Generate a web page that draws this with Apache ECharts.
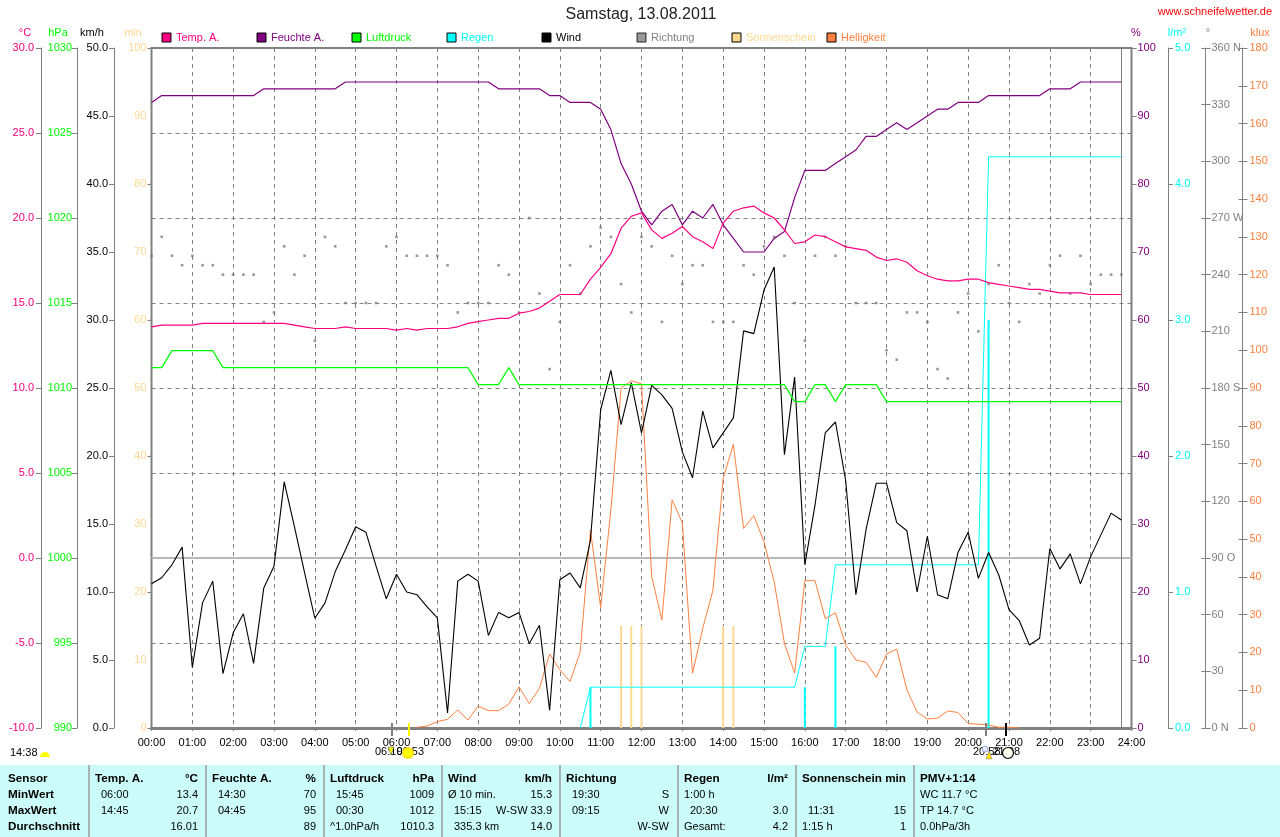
<!DOCTYPE html>
<html>
<head>
<meta charset="utf-8">
<script src="https://cdn.jsdelivr.net/npm/echarts@6/dist/echarts.min.js"></script>
<style>html,body{margin:0;padding:0;background:#fff}#c{width:1280px;height:837px}</style>
</head>
<body>
<div id="c"></div>
<script>
// 96 quarter-hour readings, 00:00 .. 23:45
const temp = [
13.6,13.7,13.7,13.7,13.7,13.8,13.8,13.8,13.8,13.8,13.8,13.8,
13.8,13.8,13.7,13.6,13.5,13.5,13.5,13.6,13.5,13.5,13.5,13.5,
13.4,13.5,13.4,13.5,13.5,13.5,13.6,13.8,13.9,14.0,14.1,14.1,
14.4,14.5,14.7,15.1,15.5,15.5,15.5,16.4,17.1,17.9,19.4,20.1,
20.3,19.3,18.8,19.1,19.5,18.9,18.6,18.2,19.7,20.4,20.6,20.7,
20.3,20.0,19.3,18.5,18.6,19.0,18.9,18.6,18.3,18.2,18.1,17.7,
17.5,17.6,17.4,16.9,16.6,16.4,16.3,16.3,16.4,16.4,16.2,16.1,
16.0,15.9,15.8,15.8,15.7,15.6,15.6,15.6,15.5,15.5,15.5,15.5];
const humidity = [
92,93,93,93,93,93,93,93,93,93,93,94,
94,94,94,94,94,94,94,95,95,95,95,95,
95,95,95,95,95,95,95,95,95,95,94,94,
94,94,94,93,93,92,92,92,91,88,83,80,
76,74,76,77,74,76,75,77,74,72,70,70,
70,72,73,78,82,82,82,83,84,85,87,87,
88,89,88,89,90,91,91,92,92,92,93,93,
93,93,93,93,94,94,94,95,95,95,95,95];
const pressure = [
1011.2,1011.2,1012.2,1012.2,1012.2,1012.2,1012.2,1011.2,1011.2,1011.2,1011.2,1011.2,
1011.2,1011.2,1011.2,1011.2,1011.2,1011.2,1011.2,1011.2,1011.2,1011.2,1011.2,1011.2,
1011.2,1011.2,1011.2,1011.2,1011.2,1011.2,1011.2,1011.2,1010.2,1010.2,1010.2,1011.2,
1010.2,1010.2,1010.2,1010.2,1010.2,1010.2,1010.2,1010.2,1010.2,1010.2,1010.2,1010.2,
1010.2,1010.2,1010.2,1010.2,1010.2,1010.2,1010.2,1010.2,1010.2,1010.2,1010.2,1010.2,
1010.2,1010.2,1010.2,1009.2,1009.2,1010.2,1010.2,1009.2,1010.2,1010.2,1010.2,1010.2,
1009.2,1009.2,1009.2,1009.2,1009.2,1009.2,1009.2,1009.2,1009.2,1009.2,1009.2,1009.2,
1009.2,1009.2,1009.2,1009.2,1009.2,1009.2,1009.2,1009.2,1009.2,1009.2,1009.2,1009.2];
const rainTotal = [
null,null,null,null,null,null,null,null,null,null,null,null,
null,null,null,null,null,null,null,null,null,null,null,null,
null,null,null,null,null,null,null,null,null,null,null,null,
null,null,null,null,null,null,0,0.3,0.3,0.3,0.3,0.3,
0.3,0.3,0.3,0.3,0.3,0.3,0.3,0.3,0.3,0.3,0.3,0.3,
0.3,0.3,0.3,0.3,0.6,0.6,0.6,1.2,1.2,1.2,1.2,1.2,
1.2,1.2,1.2,1.2,1.2,1.2,1.2,1.2,1.2,1.2,4.2,4.2,
4.2,4.2,4.2,4.2,4.2,4.2,4.2,4.2,4.2,4.2,4.2,4.2];
const wind = [
10.6,11.05,12.0,13.3,4.45,9.2,10.8,4.0,7.0,8.4,4.75,10.3,
11.9,18.1,14.8,11.4,8.07,9.2,11.5,13.1,14.8,14.4,11.9,9.5,
11.3,10.0,9.8,8.9,8.1,1.1,10.8,11.3,10.8,6.8,8.5,8.1,
8.5,6.2,7.55,1.3,10.9,11.4,10.3,13.8,23.4,26.3,22.3,25.4,
21.7,25.2,24.5,23.5,20.3,18.4,23.3,20.6,21.7,22.8,29.2,29.0,
32.2,33.9,20.1,25.8,12.0,16.4,21.7,22.5,18.2,9.8,14.6,18.0,
18.0,15.1,14.5,10.0,14.1,9.8,9.5,12.9,14.4,11.0,12.9,11.25,
8.7,7.9,6.1,6.6,13.2,11.7,12.8,10.6,12.6,14.2,15.8,15.3];
const direction = [
250,260,250,245,250,245,245,240,240,240,240,215,
220,255,240,250,205,260,255,225,225,225,225,255,
260,250,250,250,250,245,220,225,225,225,245,240,
220,270,230,190,215,245,230,255,265,260,235,220,
260,255,215,250,235,245,245,215,215,215,245,240,
255,260,250,225,205,250,260,250,255,225,225,225,
200,195,220,220,215,190,185,220,230,210,235,245,
225,215,235,230,245,250,230,250,235,240,240,240];
const brightness = [
null,null,null,null,null,null,null,null,null,null,null,null,
null,null,null,null,null,null,null,null,null,null,null,null,
null,null,0.2,0.5,1.7,2.3,4.8,2.1,5.8,4.6,4.6,6.3,
10.9,6.5,10.5,19.6,15.4,12.3,20.2,52.4,31.9,57.7,90,91.9,
91.1,40,28.6,60.4,54.3,14.5,26.4,36.5,66.1,75.1,52.8,56.2,
49.3,38.7,22.4,14.6,39,39,28.9,30.5,22,18,17.4,13.4,
19.6,20.9,10.1,4.2,2.4,2.6,4.5,4.1,1.2,1,0.8,0.2,
0.2,0,null,null,null,null,null,null,null,null,null,null];

const rainBarTimes = [10.75,16,16.75,20.5];
const rainBarValues = [0.3,0.3,0.6,3.0];
const sunTimes = [11.5,11.75,12,14,14.25];
const sunValues = [15,15,15,15,15];
const eventTimes = [5.88,6.31,20.43,20.93];
const eventColors = ['#808080','#FFFF00','#808080','#000000'];
const nowTime = 23.75;

const dirNames = {0:'N',90:'O',180:'S',270:'W',360:'N'};
const seriesNames = ['Temp. A.','Feuchte A.','Luftdruck','Regen','Wind','Richtung','Sonnenschein','Helligkeit'];
const seriesColors = ['#FF0080','#800080','#00FF00','#00FFFF','#000000','#808080','#FFD890','#FF8040'];
const unitNames = ['°C','hPa','km/h','min','%','l/m²','°','klux'];

const tableCols = [
 {x:8,  r:null, head:['Sensor',''], rows:[['MinWert',''],['MaxWert',''],['Durchschnitt','']], boldRows:true},
 {x:95, r:198, head:['Temp. A.','°C'], rows:[['06:00','13.4',1],['14:45','20.7',1],['','16.01']]},
 {x:212,r:316, head:['Feuchte A.','%'], rows:[['14:30','70',1],['04:45','95',1],['','89']]},
 {x:330,r:434, head:['Luftdruck','hPa'], rows:[['15:45','1009',1],['00:30','1012',1],['^1.0hPa/h','1010.3']]},
 {x:448,r:552, head:['Wind','km/h'], rows:[['Ø 10 min.','15.3'],['15:15','W-SW 33.9',1],['335.3 km','14.0',1]]},
 {x:566,r:669, head:['Richtung',''], rows:[['19:30','S',1],['09:15','W',1],['','W-SW']]},
 {x:684,r:788, head:['Regen','l/m²'], rows:[['1:00 h',''],['20:30','3.0',1],['Gesamt:','4.2']]},
 {x:802,r:906, head:['Sonnenschein min',''], rows:[['',''],['11:31','15',1],['1:15 h','1']]},
 {x:920,r:null,head:['PMV+1:14',''], rows:[['WC 11.7 °C',''],['TP 14.7 °C',''],['0.0hPa/3h','']]}
];
const tableSeparators = [88,205,323,441,559,677,795,913];

const FONT = '"Liberation Sans", Arial, sans-serif';
const times = temp.map((_, i) => i * 0.25);
const pairs = arr => arr.map((v, i) => [times[i], v]);

function yAxis(pos, offset, min, max, interval, color, fmt, showLine, margin) {
  return {
    type:'value', position:pos, offset:offset, min:min, max:max, interval:interval,
    axisLine:{show:showLine, onZero:false, lineStyle:{color:'#808080',width:1}},
    axisTick:{show:showLine, length:5, lineStyle:{color:'#808080',width:1}},
    splitLine:{show:false},
    axisLabel:{color:color, fontFamily:FONT, fontSize:11, margin:margin, formatter:fmt, showMinLabel:true, showMaxLabel:true}
  };
}
// extra tick-only axis: the far right scales have ticks on both sides of their line
function innerTicks(offset, min, max, interval){
  return {type:'value', position:'right', offset:offset, min:min, max:max, interval:interval,
    axisLine:{show:false}, splitLine:{show:false}, axisLabel:{show:false},
    axisTick:{show:true, inside:true, length:4, lineStyle:{color:'#808080',width:1}}};
}
const fix1 = v => v.toFixed(1);
const yAxes = [
  Object.assign(yAxis('left',110.5,-10,30,5,seriesColors[0],fix1,true,7),
    {splitLine:{show:true,lineStyle:{color:'#808080',type:[4,4],width:1}}}),
  yAxis('left',74.5,990,1030,5,seriesColors[2],v=>String(v),true,5),
  yAxis('left',37.5,0,50,5,'#000000',fix1,true,6),
  yAxis('left',0,0,100,10,seriesColors[6],v=>String(v),false,5),
  yAxis('right',0,0,100,10,seriesColors[1],v=>String(v),true,6),
  yAxis('right',36.5,0,5,1,seriesColors[3],fix1,true,7),
  yAxis('right',74,0,360,30,seriesColors[5],v=>dirNames[v]!==undefined?v+' '+dirNames[v]:String(v),true,6),
  yAxis('right',111,0,180,10,seriesColors[7],v=>String(v),true,7),
  innerTicks(36.5,0,5,1), innerTicks(74,0,360,30), innerTicks(111,0,180,10)
];

function lineSeries(name, arr, yi, color, width, z) {
  return {name, type:'line', yAxisIndex:yi, data:pairs(arr), showSymbol:false, symbol:'none',
    connectNulls:false, silent:true, z:z, lineStyle:{color,width}, itemStyle:{color}, clip:false};
}
const tempSeries = lineSeries(seriesNames[0],temp,0,seriesColors[0],1.2,6);
tempSeries.markLine = {silent:true, symbol:'none', label:{show:false}, animation:false, z:1,
  data:[
    {yAxis:0, lineStyle:{color:'#B8B8B8',width:2,type:'solid'}},
    {xAxis:nowTime, lineStyle:{color:'#808080',width:1,type:'solid'}}
  ]};

const series = [
  {name:seriesNames[6], type:'bar', yAxisIndex:3, barWidth:2, barGap:'-100%', z:3, silent:true,
    data:sunTimes.map((t,i)=>[t,sunValues[i]]), itemStyle:{color:seriesColors[6]}},
  {name:'Regen Menge', type:'bar', yAxisIndex:5, barWidth:2, barGap:'-100%', z:3, silent:true,
    data:rainBarTimes.map((t,i)=>[t,rainBarValues[i]]), itemStyle:{color:seriesColors[3]}},
  {name:seriesNames[5], type:'scatter', yAxisIndex:6, symbol:'rect', symbolSize:2.6, z:3, silent:true,
    data:pairs(direction), itemStyle:{color:seriesColors[5]}},
  lineSeries(seriesNames[3],rainTotal,5,seriesColors[3],1,4),
  lineSeries(seriesNames[7],brightness,7,seriesColors[7],1,4),
  lineSeries(seriesNames[4],wind,2,seriesColors[4],1.1,5),
  lineSeries(seriesNames[1],humidity,4,seriesColors[1],1.2,5),
  tempSeries,
  lineSeries(seriesNames[2],pressure,1,seriesColors[2],1.2,6),
  {name:'Ereignisse', type:'custom', yAxisIndex:3, z:7, silent:true, clip:false,
    data:eventTimes.map((t,i)=>[t,0,i]),
    renderItem:function(params,api){
      const p = api.coord([api.value(0),0]);
      const c = eventColors[api.value(2)];
      return {type:'rect', shape:{x:Math.round(p[0])-1, y:p[1]-5, width:2, height:13},
        style:{fill:c}, silent:true};
    }}
];

const legends = seriesNames.map((n,i)=>({
  left:161.5+i*95, top:32, padding:0, itemWidth:9, itemHeight:9, itemGap:0, icon:'rect',
  selectedMode:false, data:[n],
  itemStyle:{borderColor:'#000',borderWidth:1},
  textStyle:{color:seriesColors[i],fontFamily:FONT,fontSize:11,padding:[0,0,0,0]}
}));

function text(x,y,t,fill,opt){
  opt = opt||{};
  return {type:'text', x:x, y:y, z:50, silent:true, style:{text:t, fill:fill,
    font:(opt.bold?'bold ':'')+(opt.size||11)+'px '+FONT,
    textAlign:opt.align||'left', textVerticalAlign:'middle'}};
}
const gfx = [];
gfx.push({type:'rect', z:40, silent:true, shape:{x:0,y:765,width:1280,height:72}, style:{fill:'#CCFCF9'}});
tableSeparators.forEach(x=>gfx.push({type:'rect', z:41, silent:true, shape:{x:x,y:765,width:2,height:72}, style:{fill:'#A8B4B4'}}));
const rowY = [795,811,827];
tableCols.forEach(col=>{
  gfx.push(text(col.x,779,col.head[0],'#000',{bold:true,size:11.7}));
  if(col.head[1]) gfx.push(text(col.r,779,col.head[1],'#000',{bold:true,size:11.7,align:'right'}));
  col.rows.forEach((r,i)=>{
    if(r[0]) gfx.push(text(col.x+(r[2]?6:0),rowY[i],r[0],'#000',{bold:!!col.boldRows,size:col.boldRows?11.7:11}));
    if(r[1]) gfx.push(text(col.r,rowY[i],r[1],'#000',{align:'right'}));
  });
});
// heading, site, unit names
gfx.push(text(641,15,'Samstag, 13.08.2011','#222',{size:16,align:'center'}));
gfx.push(text(1272,12,'www.schneifelwetter.de','#FF0000',{size:11,align:'right'}));
const unitX = [25,58,92,133,1136,1177,1208,1260];
const unitColors = [seriesColors[0],seriesColors[2],'#000',seriesColors[6],seriesColors[1],seriesColors[3],seriesColors[5],seriesColors[7]];
unitNames.forEach((u,i)=>gfx.push(text(unitX[i],33,u,unitColors[i],{align:'center'})));
// sun and moon times
gfx.push(text(10,753,'14:38','#000'));
gfx.push({type:'sector',z:45,silent:true,shape:{cx:45,cy:757,r:5,r0:0,startAngle:Math.PI,endAngle:2*Math.PI},style:{fill:'#FFFF00'}});
gfx.push(text(375,752,'06:19','#000'));
gfx.push(text(424,752,'06:53','#000',{align:'right'}));
gfx.push({type:'circle',z:60,silent:true,shape:{cx:408,cy:753,r:5},style:{fill:'#FFFF00',stroke:'#FFE000',lineWidth:2}});
gfx.push({type:'polygon',z:60,silent:true,shape:{points:[[388,747],[394,747],[391,755]]},style:{fill:'#FFFF00',stroke:'#555',lineWidth:0.6}});
gfx.push(text(973,752,'20:58','#000'));
gfx.push(text(1020,752,'21:08','#000',{align:'right'}));
gfx.push({type:'circle',z:60,silent:true,shape:{cx:1008,cy:753,r:5.5},style:{fill:'#FFFFF0',stroke:'#000',lineWidth:1.2}});
gfx.push({type:'circle',z:60,silent:true,shape:{cx:985,cy:749,r:3},style:{fill:'#E8ECFF',stroke:'#8090D0',lineWidth:0.8}});
gfx.push({type:'polygon',z:61,silent:true,shape:{points:[[989,751],[986,759],[992,759]]},style:{fill:'#FFE000',stroke:'#777',lineWidth:0.5}});

const chart = echarts.init(document.getElementById('c'),null,{renderer:'canvas',width:1280,height:837,devicePixelRatio:1});
chart.setOption({
  animation:false,
  backgroundColor:'#fff',
  textStyle:{fontFamily:FONT},
  grid:{left:151.5,right:148.5,top:48,bottom:109,show:true,borderColor:'#808080',borderWidth:2,backgroundColor:'#fff',containLabel:false},
  legend:legends,
  tooltip:{show:false},
  xAxis:{type:'value',min:0,max:24,interval:1,position:'bottom',
    axisLine:{onZero:false,lineStyle:{color:'#808080',width:3}},
    axisTick:{length:3,lineStyle:{color:'#808080'}},
    axisLabel:{color:'#000',fontFamily:FONT,fontSize:11,margin:9,showMinLabel:true,showMaxLabel:true,
      formatter:v=>String(v).padStart(2,'0')+':00'},
    splitLine:{show:true,lineStyle:{color:'#808080',type:[4,4],width:1}}},
  yAxis:yAxes,
  series:series,
  graphic:{elements:gfx}
});
</script>
</body>
</html>
